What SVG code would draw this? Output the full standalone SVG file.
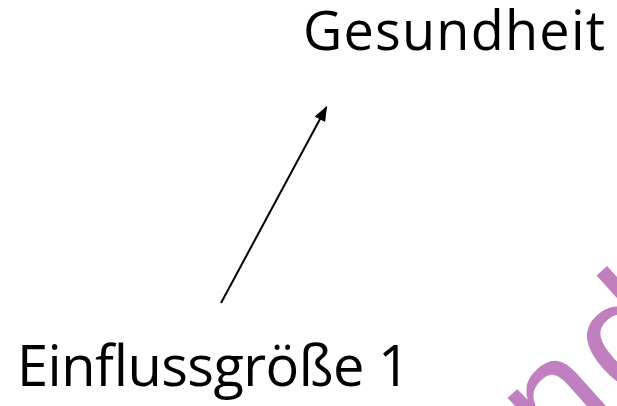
<svg xmlns="http://www.w3.org/2000/svg" width="617" height="406" viewBox="0 0 617 406">
<style>
.lbl{font-family:"Open Sans","Liberation Sans",sans-serif;fill:#000}
.wm{font-family:"Liberation Sans",sans-serif;fill:#C080C0}
</style>
<defs>
<marker id="ah" markerWidth="15" markerHeight="12" refX="14" refY="6" orient="auto" markerUnits="userSpaceOnUse" viewBox="0 0 15 12">
<path d="M0,0 L15,6 L0,12 z" fill="#000"/>
</marker>
</defs>
<rect width="617" height="406" fill="#fff"/>
<text class="wm" font-size="160" letter-spacing="6" transform="translate(556,468) rotate(-42)">nd</text>
<g id="connectors">
<line x1="221" y1="303" x2="326.5" y2="107" stroke="#000" stroke-width="2" marker-end="url(#ah)"/>
</g>
<g id="gesundheit">
<text class="lbl" x="303" y="50" font-size="54" textLength="302">Gesundheit</text>
</g>
<g id="einfluss">
<text class="lbl" x="17" y="386" font-size="56" textLength="393">Einflussgröße 1</text>
</g>
</svg>
